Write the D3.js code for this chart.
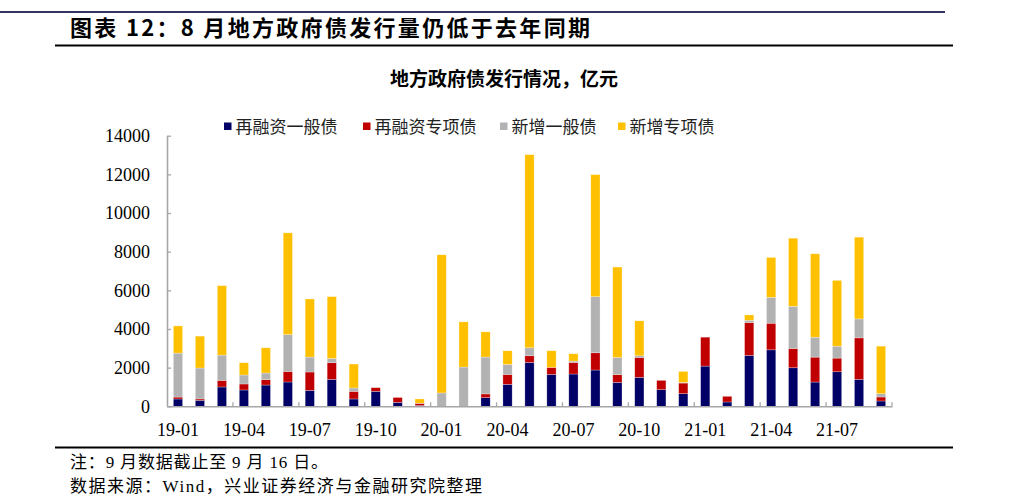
<!DOCTYPE html>
<html><head><meta charset="utf-8">
<script src="https://cdn.jsdelivr.net/npm/d3@7"></script>
<style>
html,body{margin:0;padding:0;background:#fff;}
svg{display:block;}
</style></head>
<body>
<svg id="chart" width="1018" height="496"></svg>
<script>
const categories = ["19-01","19-02","19-03","19-04","19-05","19-06","19-07","19-08","19-09","19-10","19-11","19-12",
  "20-01","20-02","20-03","20-04","20-05","20-06","20-07","20-08","20-09","20-10","20-11","20-12",
  "21-01","21-02","21-03","21-04","21-05","21-06","21-07","21-08","21-09"];
const refGeneral = [378,310,1000,845,1100,1258,825,1392,380,774,206,40,0,0,449,1135,2269,1650,1671,1877,1238,1496,860,653,2080,223,2630,2922,1994,1255,1788,1392,275];
const refSpecial = [100,70,340,310,277,547,949,862,394,190,250,115,0,0,191,515,346,361,598,892,397,1031,481,550,1496,293,1702,1376,997,1289,705,2149,206];
const newGeneral = [2274,1600,1310,465,345,1908,774,221,175,0,0,10,691,2032,1908,516,412,0,72,2904,892,88,0,35,0,0,120,1340,2183,1032,618,980,172];
const newSpecial = [1406,1650,3590,634,1305,5261,3006,3198,1238,0,0,215,7148,2336,1304,707,9990,862,377,6312,4678,1805,0,567,0,0,275,2063,3524,4314,3404,4229,2458];
const seriesNames = ["再融资一般债","再融资专项债","新增一般债","新增专项债"];
const seriesColors = ["#000066","#C00000","#B2B2B2","#FFC000"];
const yTicks = [0,2000,4000,6000,8000,10000,12000,14000];
const xLabels = ["19-01","19-04","19-07","19-10","20-01","20-04","20-07","20-10","21-01","21-04","21-07"];

const svg = d3.select("#chart");
const serifFont = "'Liberation Serif','Times New Roman','Noto Sans CJK SC',serif";
const cjkFont = "'Noto Sans CJK SC','Liberation Serif',sans-serif";

// header lines
svg.append("line").attr("x1",0).attr("x2",945).attr("y1",12).attr("y2",12)
  .attr("stroke","#333366").attr("stroke-width",2);
svg.append("text").attr("x",70).attr("y",36).attr("font-family",cjkFont)
  .attr("font-weight","bold").attr("font-size",22).attr("fill","#000")
  .attr("textLength",520).attr("lengthAdjust","spacing")
  .text("图表 12：8 月地方政府债发行量仍低于去年同期");
svg.append("line").attr("x1",55).attr("x2",953).attr("y1",45.5).attr("y2",45.5)
  .attr("stroke","#000").attr("stroke-width",2);

// subtitle
svg.append("text").attr("x",504).attr("y",86).attr("text-anchor","middle")
  .attr("font-family",cjkFont).attr("font-weight","bold").attr("font-size",19)
  .attr("fill","#000").text("地方政府债发行情况，亿元");

// scales
const plotLeft = 167, plotRight = 892, plotTop = 135.7, plotBottom = 406.3;
const x = d3.scaleBand().domain(categories).range([plotLeft,plotRight]).paddingInner(0.58).paddingOuter(0.29);
const y = d3.scaleLinear().domain([0,14000]).range([plotBottom,plotTop]);

const data = categories.map((c,i)=>({cat:c, s0:refGeneral[i], s1:refSpecial[i], s2:newGeneral[i], s3:newSpecial[i]}));
const stack = d3.stack().keys(["s0","s1","s2","s3"]);
const layers = stack(data);

const g = svg.append("g");
g.selectAll("g.layer").data(layers).join("g").attr("class","layer")
  .attr("fill",(d,i)=>seriesColors[i])
  .selectAll("rect").data(d=>d).join("rect")
  .attr("x",d=>x(d.data.cat)).attr("width",x.bandwidth())
  .attr("y",d=>y(d[1])).attr("height",d=>Math.max(0,y(d[0])-y(d[1])))
  .attr("stroke","rgba(255,255,255,0.45)").attr("stroke-width",0.6);

// y axis
const yAxis = d3.axisLeft(y).tickValues(yTicks).tickSize(0).tickPadding(17).tickFormat(d3.format("d"));
const yg = svg.append("g").attr("transform",`translate(${plotLeft},0)`).call(yAxis);
yg.select(".domain").attr("stroke","#A6A6A6").attr("stroke-width",1.6);
yg.selectAll("text").attr("font-family",serifFont).attr("font-size",18).attr("fill","#000");
yg.selectAll(".tick").append("line").attr("x1",0).attr("x2",4).attr("stroke","#A6A6A6").attr("stroke-width",1.3);

// x axis
const step = x.step();
const xAxis = d3.axisBottom(x).tickValues(xLabels).tickSize(0).tickPadding(17);
const xg = svg.append("g").attr("transform",`translate(0,${plotBottom})`).call(xAxis);
xg.select(".domain").attr("stroke","#A6A6A6").attr("stroke-width",1.6);
xg.selectAll("text").attr("font-family",serifFont).attr("font-size",18).attr("fill","#000");
const bounds = categories.filter((c,i)=>i%3===0 && i>0).map(c=>x(c)+x.bandwidth()/2-step/2).concat([plotRight]);
xg.selectAll("line.bt").data(bounds).join("line").attr("class","bt")
  .attr("x1",d=>d).attr("x2",d=>d).attr("y1",0).attr("y2",-4)
  .attr("stroke","#A6A6A6").attr("stroke-width",1.3);

// legend
const legendX = [224,363,500,618];
const lg = svg.append("g");
seriesNames.forEach((n,i)=>{
  lg.append("rect").attr("x",legendX[i]).attr("y",122.5).attr("width",7.5).attr("height",7.5).attr("fill",seriesColors[i]);
  lg.append("text").attr("x",legendX[i]+11.5).attr("y",133).attr("font-family",cjkFont)
    .attr("font-size",17).attr("fill","#222").text(n);
});

// footer
svg.append("line").attr("x1",55).attr("x2",953).attr("y1",447.5).attr("y2",447.5)
  .attr("stroke","#000").attr("stroke-width",2);
svg.append("text").attr("x",70).attr("y",468).attr("font-family",serifFont).attr("font-size",17)
  .attr("fill","#000").attr("textLength",258).attr("lengthAdjust","spacing")
  .text("注：9 月数据截止至 9 月 16 日。");
svg.append("text").attr("x",70).attr("y",492).attr("font-family",serifFont).attr("font-size",17)
  .attr("fill","#000").attr("textLength",412).attr("lengthAdjust","spacing")
  .text("数据来源：Wind，兴业证券经济与金融研究院整理");
</script>
</body></html>
